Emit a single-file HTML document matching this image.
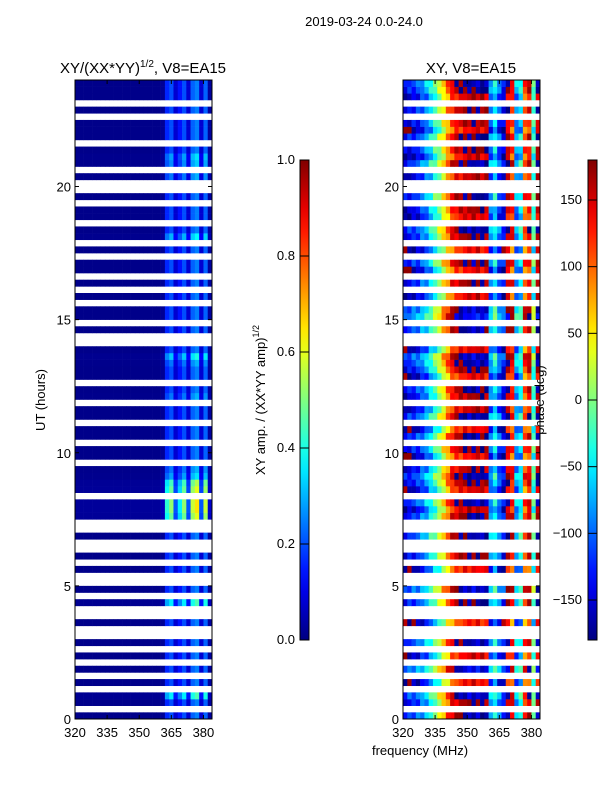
<!DOCTYPE html>
<html><head><meta charset="utf-8"><style>
body{margin:0;background:#fff}
svg{display:block;font-family:"Liberation Sans",sans-serif}
</style></head><body>
<svg id="c" width="600" height="800" xmlns="http://www.w3.org/2000/svg">
<rect width="600" height="800" fill="#fff"/>
<text x="364" y="26" font-size="13" text-anchor="middle">2019-03-24 0.0-24.0</text>
<text x="143" y="73" font-size="15" text-anchor="middle">XY/(XX*YY)<tspan font-size="10" dy="-6">1/2</tspan><tspan dy="6">, V8=EA15</tspan></text>
<text x="471" y="73" font-size="15" text-anchor="middle">XY, V8=EA15</text>
<text transform="translate(45,400) rotate(-90)" font-size="13" text-anchor="middle">UT (hours)</text>
<text x="420" y="755" font-size="13" text-anchor="middle">frequency (MHz)</text>
<text transform="translate(265,400) rotate(-90)" font-size="13" text-anchor="middle">XY amp. / (XX*YY amp)<tspan font-size="9" dy="-6">1/2</tspan></text>
<text transform="translate(544,400) rotate(-90)" font-size="13" text-anchor="middle">phase (deg)</text>
<g id="g1"></g>
<g id="g2"></g>
<g id="axes"></g>
</svg>
<script>
const hoursRange=[0,24];
const freqRange=[320,384];
const xTicks=[320,335,350,365,380];
const yTicks=[0,5,10,15,20];
const cb1Ticks=[0,0.2,0.4,0.6,0.8,1.0];
const cb2Ticks=[-150,-100,-50,0,50,100,150];
// 96 rows of 0.25h: 1 = data, 0 = flagged
const rowValid=[1,0,1,1,0,1,0,1,0,1,0,1,0,0,1,0,0,1,0,1,0,0,1,0,1,0,0,1,0,0,
1,1,1,0,1,1,1,1,0,1,1,0,1,1,0,1,1,0,1,1,0,1,1,1,1,1,0,0,1,0,
1,1,0,1,0,1,0,1,1,0,1,0,1,1,0,1,1,0,1,0,0,1,0,1,1,1,0,1,1,1,0,1,0,1,1,1];
// amplitude column profile (32 channels of 2 MHz)
const ampCols=[0.01,0.01,0.01,0.01,0.01,0.01,0.01,0.01,0.01,0.01,0.01,0.01,0.01,0.01,0.01,0.01,0.01,0.01,0.01,0.01,0.02,0.16,0.2,0.08,0.14,0.2,0.08,0.22,0.25,0.08,0.22,0.03];
// amplitude row scale
const ampRows=[1,1,1,1.8,1,1,1,1,1,1,1,1,1,1,1,1,1,1.8,1.6,1,1,1,1,1,1,1,1,1,1,1,
2.4,2.6,2.6,1,2.4,2.2,1.4,1.2,1,1,1,1,1,1,1,1,1,1,1.2,1,1,1,1,1.2,1.6,1,1,1,1,1,
1,1,1,1,1,1,1,1,1,1,1,1,1.5,1,1,1,1,1,1,1,1,1.2,1,1.3,1.4,1,1,1,1,1,1,1,1,1,1,1];
// phase column profile (deg)
const phaseCols=[-160,-150,-140,-130,-110,-90,-60,-30,0,40,80,120,140,150,160,165,170,170,165,160,-100,-60,-120,-150,150,120,-90,-60,100,130,-30,160];
// phase row offsets (deg)
const phaseRows=[30,-20,10,40,0,-30,0,50,0,-20,0,30,0,0,-40,0,0,20,0,40,0,0,-30,0,10,0,0,30,0,0,
20,-10,30,0,-20,10,30,0,0,-30,10,0,20,-30,0,30,-10,0,0,20,0,-30,10,30,40,-20,0,0,30,0,
60,40,0,-20,0,10,0,-30,20,0,-30,0,10,30,0,-20,0,0,20,0,0,-10,0,30,-20,10,0,20,-30,0,0,10,0,-10,20,30];
// cell jitter pattern (deg)
const jitter=[0,15,-10,20,-15,5,-5];

const NS='http://www.w3.org/2000/svg';
function jet(v){v=Math.max(0,Math.min(1,v));
 const r=Math.max(0,Math.min(1,1.5-Math.abs(4*v-3)));
 const g=Math.max(0,Math.min(1,1.5-Math.abs(4*v-2)));
 const b=Math.max(0,Math.min(1,1.5-Math.abs(4*v-1)));
 return `rgb(${Math.round(r*255)},${Math.round(g*255)},${Math.round(b*255)})`;}
function yScale(h){return 719-(h-hoursRange[0])/(hoursRange[1]-hoursRange[0])*639;}
function xScale(x0,f){return x0+(f-freqRange[0])/(freqRange[1]-freqRange[0])*137;}
function rect(g,x,y,w,h,fill,name){const r=document.createElementNS(NS,'rect');
 r.setAttribute('x',x);r.setAttribute('y',y);r.setAttribute('width',w);r.setAttribute('height',h);r.setAttribute('fill',fill);
 
 
 g.appendChild(r);return r;}
function line(g,x1,y1,x2,y2){const l=document.createElementNS(NS,'line');
 l.setAttribute('x1',x1);l.setAttribute('y1',y1);l.setAttribute('x2',x2);l.setAttribute('y2',y2);l.setAttribute('stroke','#000');l.setAttribute('stroke-width','1');
 
 
 g.appendChild(l);}
function text(g,x,y,s,anchor){const t=document.createElementNS(NS,'text');
 t.setAttribute('x',x);t.setAttribute('y',y);t.setAttribute('font-size','13');t.setAttribute('text-anchor',anchor);t.textContent=s;
 
 
 g.appendChild(t);}
const g1=document.getElementById('g1'),g2=document.getElementById('g2'),ax=document.getElementById('axes');
const nR=rowValid.length,nC=ampCols.length,dh=(hoursRange[1]-hoursRange[0])/nR,df=(freqRange[1]-freqRange[0])/nC;
for(let r=0;r<nR;r++){
 if(!rowValid[r])continue;
 const y1=yScale(r*dh+dh),y0=yScale(r*dh),h=y0-y1;
 for(let c=0;c<nC;c++){
  const xa=xScale(75,freqRange[0]+c*df),xb=xScale(75,freqRange[0]+(c+1)*df);
  rect(g1,xa,y1,xb-xa+0.3,h+0.3,jet(ampCols[c]*ampRows[r]),'amp-cell');
  let p=phaseCols[c]+phaseRows[r]+jitter[(r*3+c)%jitter.length];
  p=((p+180)%360+360)%360-180;
  const xp=xScale(403,freqRange[0]+c*df),xq=xScale(403,freqRange[0]+(c+1)*df);
  rect(g2,xp,y1,xq-xp+0.3,h+0.3,jet((p+180)/360),'phase-cell');
 }
}
[75,403].forEach(x0=>{
 const f=rect(ax,x0,80,137,639,'none','plot-frame');f.setAttribute('stroke','#000');
 xTicks.forEach(t=>{const x=xScale(x0,t);line(ax,x,719,x,715);line(ax,x,80,x,84);text(ax,x,737,String(t),'middle');});
 yTicks.forEach(t=>{const y=yScale(t);line(ax,x0,y,x0+4,y);line(ax,x0+137,y,x0+133,y);text(ax,x0-4,y+5,String(t),'end');});
});
const defs=document.createElementNS(NS,'defs');const lg=document.createElementNS(NS,'linearGradient');
lg.setAttribute('id','jetg');lg.setAttribute('x1','0');lg.setAttribute('y1','1');lg.setAttribute('x2','0');lg.setAttribute('y2','0');
for(let i=0;i<=20;i++){const s=document.createElementNS(NS,'stop');s.setAttribute('offset',i/20);s.setAttribute('stop-color',jet(i/20));lg.appendChild(s);}
defs.appendChild(lg);document.getElementById('c').appendChild(defs);
const cb1=rect(ax,300,160,9,480,'url(#jetg)','colorbar1');cb1.setAttribute('stroke','#000');
cb1Ticks.forEach(t=>{const y=640-t*480;line(ax,300,y,309,y);text(ax,295,y+4,t.toFixed(1),'end');});
const cb2=rect(ax,588,160,9,480,'url(#jetg)','colorbar2');cb2.setAttribute('stroke','#000');
cb2Ticks.forEach(t=>{const y=640-(t+180)/360*480;line(ax,588,y,597,y);text(ax,582,y+4,t<0?'\u2212'+(-t):String(t),'end');});
</script>
</body></html>
